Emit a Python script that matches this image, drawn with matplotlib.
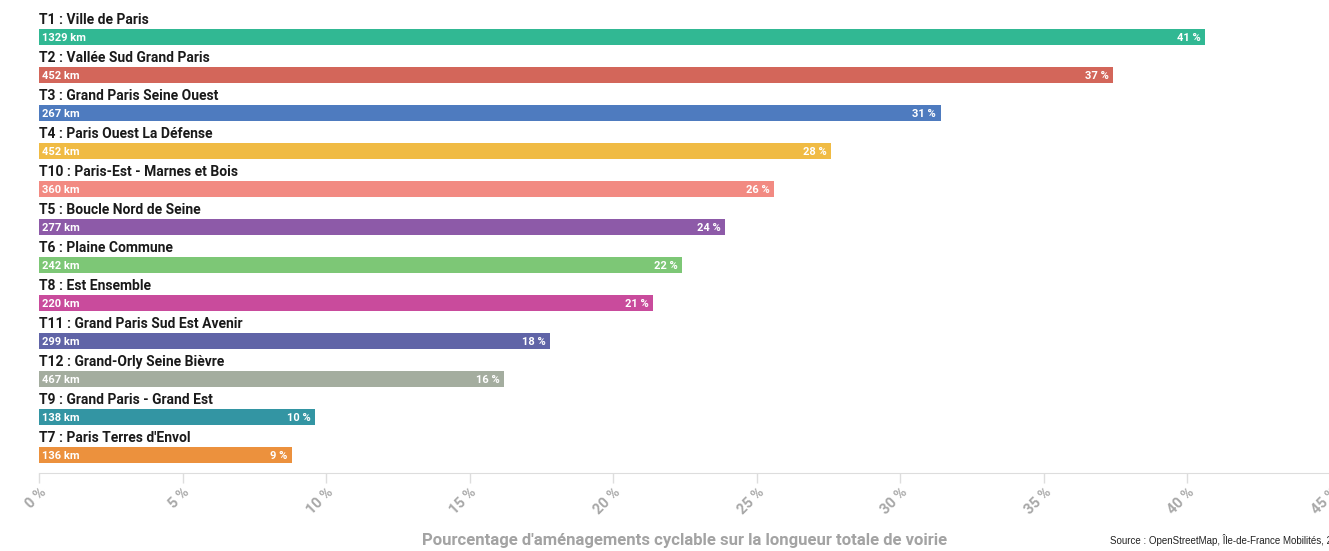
import matplotlib.pyplot as plt

# Data
territoires = ['T1 : Ville de Paris', 'T2 : Vallée Sud Grand Paris', 'T3 : Grand Paris Seine Ouest',
               'T4 : Paris Ouest La Défense', 'T10 : Paris-Est - Marnes et Bois', 'T5 : Boucle Nord de Seine',
               'T6 : Plaine Commune', 'T8 : Est Ensemble', 'T11 : Grand Paris Sud Est Avenir',
               'T12 : Grand-Orly Seine Bièvre', 'T9 : Grand Paris - Grand Est', "T7 : Paris Terres d'Envol"]
pourcentages = [40.6, 37.4, 31.4, 27.6, 25.6, 23.9, 22.4, 21.4, 17.8, 16.2, 9.6, 8.8]
longueurs_km = [1329, 452, 267, 452, 360, 277, 242, 220, 299, 467, 138, 136]
couleurs = ['#31b893', '#d3665a', '#4e7bbf', '#f0bb44', '#f28a82', '#8d5aa8',
            '#7dc776', '#c94b9c', '#6064a7', '#a4ad9f', '#3395a3', '#ec913d']
ticks = [0, 5, 10, 15, 20, 25, 30, 35, 40, 45]

plt.rcParams['font.family'] = ['Roboto', 'DejaVu Sans']

fig = plt.figure(figsize=(13.29, 5.51), dpi=100)
ax = fig.add_axes([39 / 1329, 1 - 473 / 551, 1292 / 1329, 473 / 551])

for i, (nom, p, km, c) in enumerate(zip(territoires, pourcentages, longueurs_km, couleurs)):
    ax.barh(i, p, height=0.41, color=c, left=0)
    ax.text(0.1, i + 0.02, f'{km} km', color='white', fontsize=8, fontweight='bold',
            va='center', ha='left')
    ax.text(p - 0.15, i + 0.02, f'{round(p)} %', color='white', fontsize=8, fontweight='bold',
            va='center', ha='right')
    ax.text(0, i - 0.44, nom, color='#1a1a1a', fontsize=10, fontweight='bold',
            va='center', ha='left')

ax.set_xlim(0, 45)
ax.set_ylim((473 - 37) / 38, -37 / 38)
ax.set_yticks([])
ax.set_xticks(ticks)
ax.set_xticklabels([f'{t} %' for t in ticks], rotation=45, ha='right', va='top',
                   rotation_mode='anchor', color='#a8a8a8', fontsize=10.5, fontweight='bold')
ax.tick_params(axis='x', length=7, color='#dddddd', width=1, pad=2)
for s in ['top', 'right', 'left']:
    ax.spines[s].set_visible(False)
ax.spines['bottom'].set_color('#dddddd')

fig.text(685 / 1329, 1 - 541 / 551, "Pourcentage d'aménagements cyclable sur la longueur totale de voirie",
         ha='center', va='center', fontsize=12, fontweight='bold', color='#a3a3a3')
fig.text(1110 / 1329, 1 - 540 / 551, 'Source : OpenStreetMap, Île-de-France Mobilités, 2023',
         ha='left', va='center', fontsize=7, color='#222222', family=['Liberation Sans', 'DejaVu Sans'])

fig.savefig('out.png', dpi=100)
